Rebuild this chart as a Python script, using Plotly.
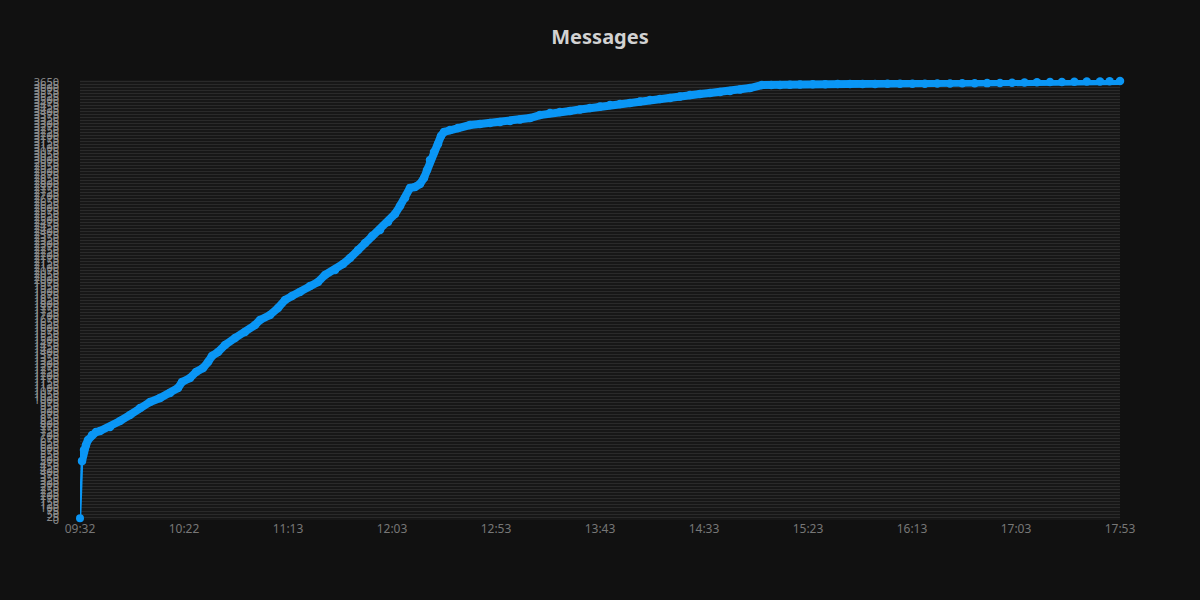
import plotly.graph_objects as go
import pandas as pd

DAY = "2024-01-01"

times = [
    "09:32:00", "09:32:58", "09:33:56", "09:34:53", "09:35:51", "09:37:47", "09:39:43", "09:41:38",
    "09:46:27", "09:51:16", "09:56:05", "10:00:54", "10:05:43", "10:10:32", "10:15:21", "10:19:13",
    "10:21:08", "10:24:59", "10:27:53", "10:31:15", "10:33:40", "10:35:35", "10:38:29", "10:41:51",
    "10:46:40", "10:51:29", "10:56:18", "10:58:43", "11:03:32", "11:07:23", "11:10:45", "11:14:08",
    "11:17:59", "11:22:48", "11:26:39", "11:30:01", "11:34:50", "11:38:42", "11:42:04", "11:45:55",
    "11:49:17", "11:52:40", "11:56:31", "12:00:22", "12:03:44", "12:06:09", "12:08:34", "12:10:58",
    "12:13:23", "12:15:47", "12:17:43", "12:19:10", "12:20:36", "12:22:32", "12:24:28", "12:25:54",
    "12:27:21", "12:30:14", "12:34:05", "12:39:52", "12:44:40", "12:49:31", "12:54:20", "12:59:08",
    "13:04:00", "13:08:47", "13:13:35", "13:18:25", "13:23:10", "13:28:03", "13:32:50", "13:37:41",
    "13:42:30", "13:47:19", "13:52:10", "13:56:57", "14:01:45", "14:06:35", "14:11:25", "14:16:13",
    "14:21:00", "14:25:52", "14:30:40", "14:35:29", "14:40:20", "14:45:07", "14:50:00", "14:54:46",
    "15:00:32", "15:05:00", "15:09:13", "15:14:00", "15:18:51", "15:25:00", "15:31:00", "15:37:00",
    "15:42:56", "15:49:00", "15:55:00", "16:01:00", "16:07:01", "16:13:00", "16:19:00", "16:25:00",
    "16:31:07", "16:37:00", "16:43:00", "16:49:00", "16:55:11", "17:01:00", "17:07:00", "17:13:00",
    "17:19:17", "17:25:00", "17:31:00", "17:37:00", "17:43:22", "17:48:00", "17:53:00",
]

messages = [
    15, 491, 583, 625, 666, 708, 733, 741,
    775, 825, 875, 933, 983, 1016, 1058, 1100,
    1149, 1183, 1233, 1266, 1316, 1366, 1399, 1458,
    1516, 1566, 1624, 1666, 1708, 1766, 1832, 1866,
    1899, 1949, 1982, 2041, 2082, 2132, 2182, 2249,
    2307, 2366, 2416, 2482, 2549, 2615, 2682, 2765,
    2774, 2799, 2849, 2915, 2999, 3065, 3132, 3199,
    3232, 3249, 3265, 3290, 3299, 3307, 3315, 3323,
    3336, 3348, 3373, 3390, 3399, 3407, 3420, 3432,
    3445, 3457, 3465, 3473, 3486, 3498, 3507, 3515,
    3528, 3540, 3549, 3557, 3565, 3573, 3586, 3598,
    3623, 3624, 3624, 3626, 3628, 3629, 3630, 3631,
    3632, 3632, 3632, 3633, 3633, 3634, 3634, 3635,
    3636, 3637, 3638, 3639, 3640, 3642, 3644, 3646,
    3648, 3649, 3650, 3652, 3653, 3655, 3657,
]

x_tick_labels = ["09:32", "10:22", "11:13", "12:03", "12:53", "13:43",
                 "14:33", "15:23", "16:13", "17:03", "17:53"]

y_max = 3665
y_step = 25

ts = pd.to_datetime([f"{DAY} {t}" for t in times])
t0, t1 = ts[0], ts[-1]
n = len(x_tick_labels) - 1
tickvals = [t0 + (t1 - t0) * i / n for i in range(n + 1)]

blue = "#0a96f5"

fig = go.Figure()
# first jump drawn with a thin line
fig.add_trace(go.Scatter(
    x=ts[:2], y=messages[:2], mode="lines+markers",
    line=dict(color=blue, width=2.5), marker=dict(color=blue, size=8),
    cliponaxis=False, hoverinfo="skip", showlegend=False,
))
fig.add_trace(go.Scatter(
    x=ts[1:], y=messages[1:], mode="lines+markers",
    line=dict(color=blue, width=8), marker=dict(color=blue, size=8.5),
    cliponaxis=False, showlegend=False, name="Messages",
))

fig.update_layout(
    width=1200, height=600,
    paper_bgcolor="#111111", plot_bgcolor="#171717",
    margin=dict(l=80, r=80, t=80, b=80),
    font=dict(family="Noto Sans, Open Sans, sans-serif", color="#7a7a7a"),
    title=dict(text="<b>Messages</b>", x=0.5, xanchor="center", xref="paper",
               y=1 - 37 / 600, yref="container", yanchor="middle",
               font=dict(size=20, color="#d2d2d2")),
    xaxis=dict(
        type="date", range=[t0, t1], tickmode="array",
        tickvals=tickvals, ticktext=x_tick_labels,
        showgrid=False, zeroline=False, showline=False,
        tickfont=dict(size=12, color="#777777"),
    ),
    yaxis=dict(
        range=[0, y_max], tickmode="linear", tick0=0, dtick=y_step,
        showgrid=True, gridcolor="#2a2a2a", gridwidth=1,
        zeroline=False, showline=False,
        tickfont=dict(size=11, color="#8a8a8a"),
        ticklabelstandoff=20,
    ),
)

fig.write_html("out.html", config={"displayModeBar": False},
               post_script="document.body.style.margin='0';")
